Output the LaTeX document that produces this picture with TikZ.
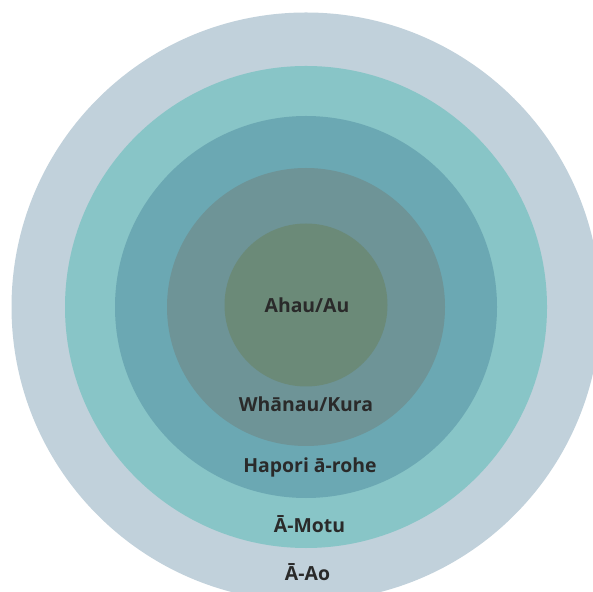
\documentclass[tikz,border=0pt]{standalone}
\usepackage{fontspec}
\setmainfont{Open Sans}

\definecolor{aocol}{HTML}{C1D1DB}
\definecolor{motucol}{HTML}{88C5C7}
\definecolor{rohecol}{HTML}{6BA8B3}
\definecolor{whanaucol}{HTML}{6E9497}
\definecolor{ahaucol}{HTML}{6B8A78}
\definecolor{textcol}{HTML}{2A2A2A}

\tikzset{
  etiq/.style={anchor=base, text=textcol, inner sep=0pt,
    font=\fontsize{19.4}{22}\selectfont\bfseries}
}

\begin{document}
\begin{tikzpicture}[x=1pt,y=1pt]

	% Marc
	\useasboundingbox (0,0) rectangle (593,591);
	\clip (0,0) rectangle (593,591);

	% Centre
	\coordinate (O) at (306,284);

	% Cercles
	\fill[aocol] (O) circle (294.5);
	\fill[motucol] (O) circle (241);
	\fill[rohecol] (O) circle (191);
	\fill[whanaucol] (O) circle (139);
	\fill[ahaucol] (306,286) circle (81.5);

	% Etiquetes
	\node[etiq] (ahau) at (307,278) {Ahau/Au};
	\node[etiq] (whanau) at (306,179) {Whānau/Kura};
	\node[etiq] (hapori) at (310,119) {Hapori ā-rohe};
	\node[etiq] (motu) at (309.5,59) {Ā-Motu};
	\node[etiq] (ao) at (307.5,11) {Ā-Ao};

\end{tikzpicture}
\end{document}
